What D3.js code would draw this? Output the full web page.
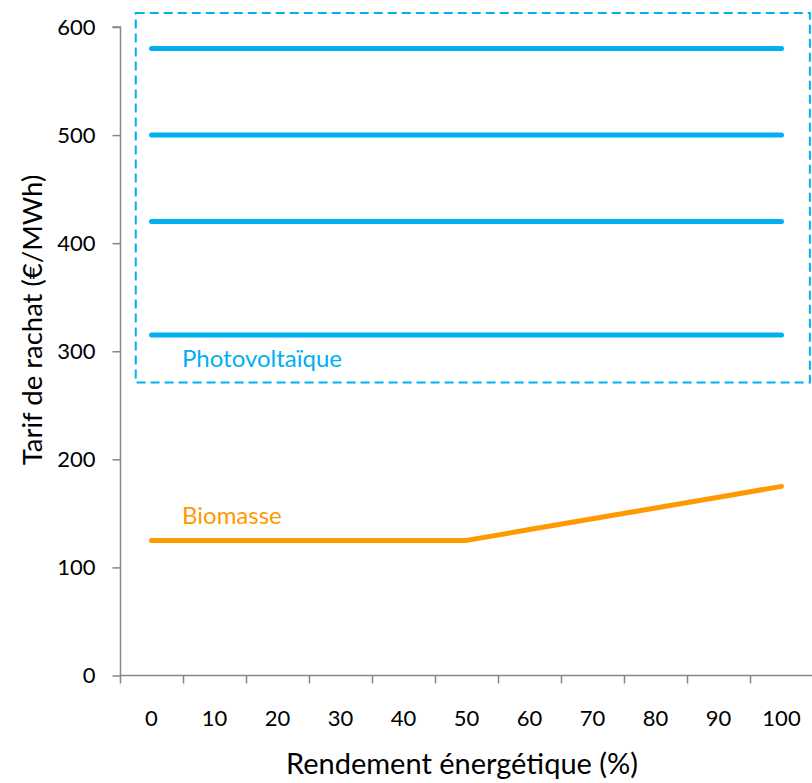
<!DOCTYPE html>
<html>
<head>
<meta charset="utf-8">
<script src="https://cdn.jsdelivr.net/npm/d3@7/dist/d3.min.js"></script>
<style>
  body { margin: 0; background: #fff; }
  svg text { font-family: Lato, "Noto Sans", sans-serif; }
</style>
</head>
<body>
<svg id="chart-svg" width="812" height="783"></svg>
<script>
// categories on x axis (rendement %)
const categories = [0, 10, 20, 30, 40, 50, 60, 70, 80, 90, 100];
const yTicks = [0, 100, 200, 300, 400, 500, 600];

// photovoltaic tariffs, flat over all categories
const pvLevels = [580, 500, 420, 315];
// biomass tariff per category
const biomasse = [125, 125, 125, 125, 125, 125, 135, 145, 155, 165, 175];

// dashed frame around the PV group, in data units
const pvBox = { x0: -0.25, x1: 10.45, y0: 271, y1: 613 };

const margin = { left: 120, top: 27, bottom: 107 };
const width = 812, height = 783;
const step = 63;

const svg = d3.select("#chart-svg");

const xScale = d3.scaleBand()
  .domain(categories)
  .range([margin.left, margin.left + step * categories.length]);
const xIdx = i => margin.left + step * (i + 0.5);

const yScale = d3.scaleLinear()
  .domain([0, 600])
  .range([height - margin.bottom - 0.5, margin.top]);

const axisColor = "#868686";

// y axis
const yAxis = svg.append("g")
  .attr("transform", `translate(${margin.left + 0.5},0)`)
  .call(d3.axisLeft(yScale).tickValues(yTicks).tickSize(8).tickPadding(17));
yAxis.select(".domain").attr("stroke", axisColor).attr("stroke-width", 1.5)
  .attr("d", `M-8,${yScale(600)}H0V${yScale(0)}`);
yAxis.selectAll(".tick line").attr("stroke", axisColor).attr("stroke-width", 1.5);
yAxis.selectAll(".tick text").attr("fill", "#000").style("font-size", "22px");

// x axis (ticks between categories)
const xAxisY = yScale(0);
const xg = svg.append("g").attr("transform", `translate(0,${xAxisY})`);
xg.append("line")
  .attr("x1", margin.left).attr("x2", width)
  .attr("stroke", axisColor).attr("stroke-width", 1.5);
xg.selectAll(".xtick")
  .data(d3.range(categories.length + 1))
  .join("line")
  .attr("class", "xtick")
  .attr("x1", i => margin.left + 0.5 + step * i)
  .attr("x2", i => margin.left + 0.5 + step * i)
  .attr("y1", 0).attr("y2", 8)
  .attr("stroke", axisColor).attr("stroke-width", 1.5);
xg.selectAll(".xlabel")
  .data(categories)
  .join("text")
  .attr("class", "xlabel")
  .attr("x", d => xScale(d) + xScale.bandwidth() / 2)
  .attr("y", 50)
  .attr("text-anchor", "middle")
  .style("font-size", "22px")
  .text(d => d);

// axis titles
svg.append("text")
  .attr("transform", "translate(42,320) rotate(-90)")
  .attr("text-anchor", "middle")
  .style("font-size", "27.5px")
  .text("Tarif de rachat (€/MWh)");
svg.append("text")
  .attr("x", 462).attr("y", 774)
  .attr("text-anchor", "middle")
  .style("font-size", "29px")
  .text("Rendement énergétique (%)");

// PV dashed frame
svg.append("rect")
  .attr("x", xIdx(pvBox.x0))
  .attr("y", yScale(pvBox.y1))
  .attr("width", xIdx(pvBox.x1) - xIdx(pvBox.x0))
  .attr("height", yScale(pvBox.y0) - yScale(pvBox.y1))
  .attr("fill", "none")
  .attr("stroke", "#00B0F0")
  .attr("stroke-width", 2)
  .attr("stroke-dasharray", "9,5");

// PV lines
const line = d3.line()
  .x((d, i) => xScale(categories[i]) + xScale.bandwidth() / 2)
  .y(d => yScale(d));

svg.selectAll(".pv")
  .data(pvLevels)
  .join("path")
  .attr("class", "pv")
  .attr("d", v => line(categories.map(() => v)))
  .attr("fill", "none")
  .attr("stroke", "#00B0F0")
  .attr("stroke-width", 5)
  .attr("stroke-linecap", "round");

// biomass line
svg.append("path")
  .attr("d", line(biomasse))
  .attr("fill", "none")
  .attr("stroke", "#FF9900")
  .attr("stroke-width", 5)
  .attr("stroke-linecap", "round")
  .attr("stroke-linejoin", "round");

// series labels
svg.append("text")
  .attr("x", 182).attr("y", yScale(285))
  .attr("fill", "#00B0F0")
  .style("font-size", "24px")
  .text("Photovoltaïque");
svg.append("text")
  .attr("x", 182).attr("y", yScale(140))
  .attr("fill", "#FF9900")
  .style("font-size", "24px")
  .text("Biomasse");
</script>
</body>
</html>
